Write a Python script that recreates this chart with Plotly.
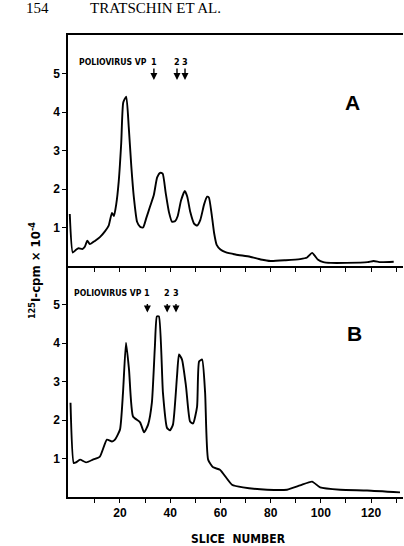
import plotly.graph_objects as go

# Panel A (values in 10^4 cpm)
slice_a = [0, 1.2, 2.5, 3.5, 5, 6, 7, 8, 10, 12, 14, 15.5, 16.8, 17.6, 18.5, 19.5, 20.5, 21.3, 22.5,
           23.5, 24.5, 25.5, 26.8, 28, 29.2, 30.5, 32, 33.5, 34.8, 36, 37, 38.2, 39.5, 40.7, 42, 43,
           44.3, 45.8, 46.8, 48, 49.5, 50.7, 52, 53.5, 54.7, 55.4, 56.5, 57.5, 58.5, 60, 62, 66,
           71.8, 76, 80, 86, 91.7, 94.5, 96.5, 98.9, 101, 104, 110, 118.6, 121, 123.8, 129]
cpm_a = [1.35, 0.35, 0.42, 0.46, 0.44, 0.5, 0.66, 0.57, 0.65, 0.75, 0.9, 1.05, 1.38, 1.3, 1.6, 2.2,
         3.2, 4.25, 4.4, 3.6, 2.6, 1.8, 1.15, 1.02, 1.0, 1.25, 1.55, 1.85, 2.3, 2.42, 2.4, 1.9, 1.4,
         1.15, 1.17, 1.3, 1.7, 1.95, 1.8, 1.4, 1.1, 1.05, 1.2, 1.6, 1.8, 1.78, 1.35, 0.85, 0.55,
         0.43, 0.36, 0.3, 0.24, 0.17, 0.13, 0.15, 0.18, 0.22, 0.34, 0.16, 0.1, 0.08, 0.08, 0.1,
         0.13, 0.1, 0.11]

# Panel B (values in 10^4 cpm)
slice_b = [0.3, 1.6, 2.5, 4.1, 6.5, 9.2, 12, 14.8, 16.8, 18, 20, 21.2, 22.4, 23.6, 25.2, 28, 29.6,
           31.2, 32.7, 33.9, 34.7, 35.5, 37.1, 38.7, 39.9, 41.1, 42.7, 43.5, 44.7, 46.3, 47.9, 49.1,
           50.7, 51.5, 52.7, 53.9, 55.1, 57.1, 59.8, 64.6, 69, 78.6, 86.5, 91.7, 96.5, 99.7, 107.7,
           118.4, 131.5]
cpm_b = [2.45, 0.88, 0.9, 0.97, 0.9, 0.97, 1.05, 1.49, 1.44, 1.49, 1.75, 2.71, 4.01, 3.31, 2.09,
         1.94, 1.68, 1.88, 2.45, 3.91, 4.69, 4.69, 2.71, 1.8, 1.73, 1.88, 3.13, 3.7, 3.57, 2.87, 1.96,
         1.91, 2.35, 3.52, 3.57, 2.71, 0.97, 0.77, 0.71, 0.32, 0.25, 0.19, 0.19, 0.3, 0.4, 0.25,
         0.19, 0.17, 0.12]

vp_labels = ["1", "2", "3"]
vp_a = [33.5, 42.7, 45.9]
vp_b = [30.9, 38.8, 42.3]

x_ticks = [10, 20, 30, 40, 50, 60, 70, 80, 90, 100, 110, 120, 130]
x_ticktext = ["", "20", "", "40", "", "60", "", "80", "", "100", "", "120", ""]
y_ticks = [1, 2, 3, 4, 5]
y_ticktext = ["1", "2", "3", "4", "5"]

BOLD = "Liberation Sans, Arial, sans-serif"
NARROW = "Liberation Sans Narrow, DejaVu Sans Condensed, Arial Narrow, Liberation Sans, sans-serif"

fig = go.Figure()
fig.add_trace(go.Scatter(x=slice_a, y=cpm_a, mode="lines", xaxis="x2", yaxis="y2",
                         line=dict(color="black", width=1.9, shape="spline", smoothing=0.5),
                         showlegend=False, hoverinfo="skip"))
fig.add_trace(go.Scatter(x=slice_b, y=cpm_b, mode="lines", xaxis="x", yaxis="y",
                         line=dict(color="black", width=1.9, shape="spline", smoothing=0.5),
                         showlegend=False, hoverinfo="skip"))

axis_common = dict(showgrid=False, zeroline=False, showline=True, linecolor="black", linewidth=1.5,
                   ticks="outside", ticklen=4, tickwidth=1.2, tickcolor="black")
tickfont = dict(family=BOLD, size=12, color="black")

def bold(labels):
    return ["<b>" + t + "</b>" if t else "" for t in labels]

fig.update_layout(
    width=404, height=546,
    margin=dict(l=68, r=1, t=35, b=49),
    paper_bgcolor="white", plot_bgcolor="white",
    xaxis=dict(domain=[0, 1], anchor="y", range=[-0.7, 132.7], tickvals=x_ticks,
               ticktext=bold(x_ticktext), tickfont=tickfont, **axis_common),
    yaxis=dict(domain=[0, 0.5], anchor="x", range=[0, 6], tickvals=y_ticks,
               ticktext=bold(y_ticktext), tickfont=tickfont, **axis_common),
    xaxis2=dict(domain=[0, 1], anchor="y2", range=[-0.7, 132.7], tickvals=x_ticks,
                showticklabels=False, mirror=True, **axis_common),
    yaxis2=dict(domain=[0.5, 1], anchor="x2", range=[0, 6], tickvals=y_ticks,
                ticktext=bold(y_ticktext), tickfont=tickfont, **axis_common),
)

ann = []
serif = dict(family="Liberation Serif, Times New Roman, serif", size=15, color="black")
# header
ann.append(dict(text="154", xref="paper", yref="paper", x=-0.131, y=1.058, xanchor="left",
                yanchor="middle", showarrow=False, font=serif))
ann.append(dict(text="TRATSCHIN ET AL.", xref="paper", yref="paper", x=0.06, y=1.058,
                xanchor="left", yanchor="middle", showarrow=False, font=serif))
# panel letters
ann.append(dict(text="<b>A</b>", xref="paper", yref="paper", x=0.848, y=0.853, showarrow=False,
                xanchor="center", yanchor="middle", font=dict(family=BOLD, size=21, color="black")))
ann.append(dict(text="<b>B</b>", xref="paper", yref="paper", x=0.854, y=0.353, showarrow=False,
                xanchor="center", yanchor="middle", font=dict(family=BOLD, size=21, color="black")))
# y label
ann.append(dict(text="<b><sup>125</sup>I-cpm × 10<sup>-4</sup></b>", xref="paper", yref="paper",
                x=-0.1, y=0.49, textangle=-90, showarrow=False, xanchor="center", yanchor="middle",
                font=dict(family=NARROW, size=13, color="black")))
# x label
ann.append(dict(text="<b>SLICE  NUMBER</b>", xref="paper", yref="paper", x=0.51, y=-0.091,
                xanchor="center", yanchor="middle", showarrow=False,
                font=dict(family=NARROW, size=12, color="black")))

# poliovirus markers
for xs, tx_ref, ty, ytext, yhead, ylen, xleft in [
        (vp_a, "x2", "y2", 0.9426, 4.83, -13, 0.027),
        (vp_b, "x", "y", 0.4416, 4.79, -10, 0.013)]:
    ann.append(dict(text="<b>POLIOVIRUS VP</b>", xref="paper", yref="paper", x=xleft, y=ytext,
                    xanchor="left", yanchor="middle", showarrow=False,
                    font=dict(family=NARROW, size=8.6, color="black")))
    for lab, xv in zip(vp_labels, xs):
        ann.append(dict(text="<b>" + lab + "</b>", xref=tx_ref, yref="paper", x=xv, y=ytext,
                        xanchor="center", yanchor="middle", showarrow=False,
                        font=dict(family=NARROW, size=9, color="black")))
        ann.append(dict(text="", xref=tx_ref, yref=ty, x=xv, y=yhead, ax=0, ay=ylen,
                        showarrow=True, arrowhead=2, arrowsize=1, arrowwidth=1.4,
                        arrowcolor="black"))

fig.update_layout(annotations=ann)
fig.write_html("out.html")
